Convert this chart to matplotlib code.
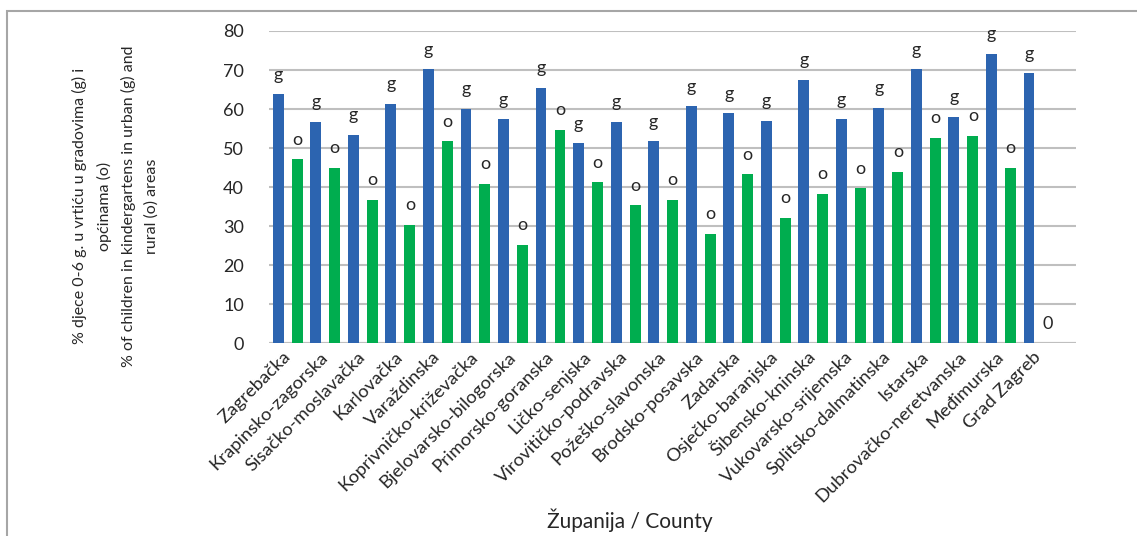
import numpy as np
import matplotlib
matplotlib.use("Agg")
import matplotlib.pyplot as plt
from matplotlib.patches import Rectangle

plt.rcParams['font.family'] = ['Lato', 'DejaVu Sans']

counties = [
    "Zagrebačka", "Krapinsko-zagorska", "Sisačko-moslavačka", "Karlovačka",
    "Varaždinska", "Koprivničko-križevačka", "Bjelovarsko-bilogorska",
    "Primorsko-goranska", "Ličko-senjska", "Virovitičko-podravska",
    "Požeško-slavonska", "Brodsko-posavska", "Zadarska", "Osječko-baranjska",
    "Šibensko-kninska", "Vukovarsko-srijemska", "Splitsko-dalmatinska",
    "Istarska", "Dubrovačko-neretvanska", "Međimurska", "Grad Zagreb",
]
urban_pct = [63.8, 56.7, 53.4, 61.4, 70.2, 60.0, 57.4, 65.5, 51.2, 56.8, 51.7,
             60.7, 58.9, 57.0, 67.5, 57.4, 60.4, 70.2, 58.0, 74.2, 69.2]
rural_pct = [47.1, 44.9, 36.8, 30.3, 51.7, 40.9, 25.2, 54.7, 41.2, 35.4, 36.8,
             28.1, 43.3, 32.1, 38.3, 39.7, 43.9, 52.6, 53.1, 44.9, 0.0]
urban_labels = ["g"] * len(counties)
rural_labels = ["o"] * (len(counties) - 1) + ["0"]
y_ticks = [0, 10, 20, 30, 40, 50, 60, 70, 80]

BLUE = "#2C64B0"
GREEN = "#00AD4F"
GRID = "#BFBFBF"
TEXT = "#262626"

W, H = 1137, 536
fig = plt.figure(figsize=(W / 100, H / 100), dpi=100)
ax = fig.add_axes([269 / W, 1 - 343.3 / H, (1076 - 269) / W, (343.3 - 31) / H])

x = np.arange(len(counties))
bw = 0.29
off = 0.253
bars_g = ax.bar(x - off, urban_pct, bw, color=BLUE, zorder=3)
bars_o = ax.bar(x + off, rural_pct, bw, color=GREEN, zorder=3)

for bars, labels in ((bars_g, urban_labels), (bars_o, rural_labels)):
    for b, lab in zip(bars, labels):
        ax.annotate(lab, (b.get_x() + b.get_width() / 2, b.get_height()),
                    xytext=(0, 10.5), textcoords="offset points",
                    ha="center", va="baseline", fontsize=13, color=TEXT)

ax.set_ylim(0, 80)
ax.set_xlim(-0.5, 21.0)
ax.set_yticks(y_ticks)
ax.yaxis.grid(True, color=GRID, linewidth=1.5, zorder=0)
ax.set_axisbelow(True)
for s in ax.spines.values():
    s.set_visible(False)
ax.axhline(0, color=GRID, linewidth=1.5, zorder=1)
ax.tick_params(axis="both", length=0, labelsize=13, colors=TEXT)
ax.tick_params(axis="y", pad=18)
ax.tick_params(axis="x", pad=8)
ax.set_xticks(x)
ax.set_xticklabels(counties, rotation=45, ha="right", va="center",
                   rotation_mode="anchor", fontsize=13.3, color=TEXT)

fig.text(630 / W, 1 - 520 / H, "Županija / County", ha="center", va="center",
         fontsize=15, color=TEXT)

ylab = ("% djece 0-6 g. u vrtiću u gradovima (g) i\nopćinama (o)\n"
        "% of children in kindergartens in urban (g) and\nrural (o) areas")
fig.text(115.5 / W, 1 - 206 / H, ylab, rotation=90, ha="center", va="center",
         multialignment="center", linespacing=1.75, fontsize=11.5, color=TEXT)

fig.patches.append(Rectangle((7 / W, -0.1), 1.2, (H - 11) / H + 0.1,
                             transform=fig.transFigure, fill=False,
                             edgecolor="#A6A6A6", linewidth=1.5))

fig.savefig("out.png", dpi=100)
